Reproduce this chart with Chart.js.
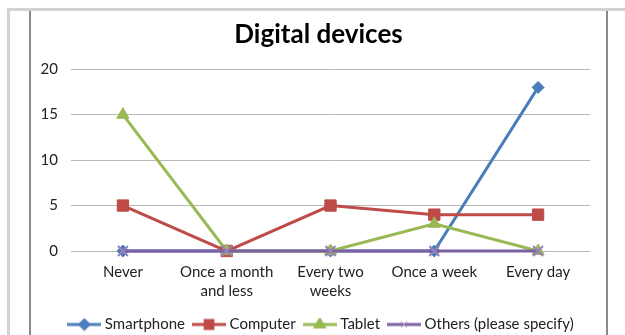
<!DOCTYPE html>
<html>
<head>
<meta charset="utf-8">
<script src="https://cdn.jsdelivr.net/npm/chart.js"></script>
<style>
  html, body { margin: 0; padding: 0; background: #fff; }
  body { width: 625px; height: 335px; position: relative; overflow: hidden; }
  #frameTop { position: absolute; left: 7px; top: 8px; right: 0; height: 3px; background: #d2d2d2; }
  #frameLeft { position: absolute; left: 7px; top: 8px; width: 3px; bottom: 0; background: #d2d2d2; }
  #lineLeft { position: absolute; left: 29px; top: 11px; width: 2px; bottom: 0; background: #8a8a8a; }
  #lineRight { position: absolute; left: 606px; top: 11px; width: 2px; bottom: 0; background: #8a8a8a; }
  #wrap { position: absolute; left: 31px; top: 11px; width: 575px; height: 331px; }
</style>
</head>
<body>
<div id="frameTop"></div>
<div id="frameLeft"></div>
<div id="lineLeft"></div>
<div id="lineRight"></div>
<div id="wrap"><canvas id="chart"></canvas></div>
<script>
// categories and series
const categories = ["Never", ["Once a month", "and less"], ["Every two", "weeks"], "Once a week", "Every day"];
const smartphone = [0, 0, 0, 0, 18];
const computer = [5, 0, 5, 4, 4];
const tablet = [15, 0, 0, 3, 0];
const others = [0, 0, 0, 0, 0];
const yTicks = [0, 5, 10, 15, 20];

const seriesNames = ["Smartphone", "Computer", "Tablet", "Others (please specify)"];
const colors = ["#4a7ebb", "#be4b48", "#98b954", "#7d60a0"];
const styles = ["rectRot", "rect", "triangle", "crossRot"];
const radii = [6, 8, 7, 7];
const legendRadii = [4.5, 5.5, 5, 4.5];

// small icon for the legend: line with its marker
function legendIcon(i) {
  const c = document.createElement("canvas");
  c.width = 34; c.height = 14;
  const ctx = c.getContext("2d");
  ctx.strokeStyle = colors[i];
  ctx.fillStyle = colors[i];
  ctx.lineWidth = 3;
  ctx.beginPath();
  ctx.moveTo(0, 7); ctx.lineTo(34, 7);
  ctx.stroke();
  if (styles[i] === "crossRot") {
    ctx.strokeStyle = "#a898c8";
    ctx.lineWidth = 1;
  }
  Chart.helpers.drawPoint(ctx, { pointStyle: styles[i], radius: legendRadii[i], borderWidth: 1 }, 17, 7);
  if (styles[i] !== "crossRot") ctx.fill();
  return c;
}

const font = "Lato, 'Open Sans', sans-serif";
const allSeries = [smartphone, computer, tablet, others];

const datasets = allSeries.map((vals, i) => ({
  label: seriesNames[i],
  data: vals,
  borderColor: colors[i],
  backgroundColor: colors[i],
  borderWidth: 3,
  pointStyle: styles[i],
  pointRadius: radii[i],
  pointBorderColor: styles[i] === "crossRot" ? "#9580bd" : colors[i],
  pointBorderWidth: styles[i] === "crossRot" ? 2 : 1,
  pointHoverRadius: radii[i],
  tension: 0,
  clip: false,
  order: 4 - i
}));

// nudge title and legend to where they sit in the picture
const boxShift = {
  id: "boxShift",
  afterLayout(chart) {
    chart.legend.left += 12;
    chart.legend.right += 12;
    chart.titleBlock.left += 8;
    chart.titleBlock.right += 8;
  }
};

new Chart(document.getElementById("chart"), {
  type: "line",
  data: { labels: categories, datasets: datasets },
  plugins: [boxShift],
  options: {
    responsive: true,
    maintainAspectRatio: false,
    animation: false,
    layout: { padding: { left: 0, right: 16, top: 0, bottom: 0 } },
    scales: {
      x: {
        offset: true,
        grid: { display: false, drawTicks: false },
        border: { display: false },
        ticks: { color: "#222", font: { family: font, size: 15, lineHeight: 1.3 }, padding: 11, maxRotation: 0, autoSkip: false },
        afterFit: s => { s.height = 55; }
      },
      y: {
        min: 0,
        max: 20,
        afterBuildTicks: s => { s.ticks = yTicks.map(v => ({ value: v })); },
        grid: { color: "#b8b8b8", lineWidth: 1, drawTicks: false },
        border: { display: false },
        ticks: { color: "#222", font: { family: font, size: 15 }, padding: 13 },
        afterFit: s => { s.width = 40; }
      }
    },
    plugins: {
      title: {
        display: true,
        text: "Digital devices",
        color: "#000",
        font: { family: font, size: 26, weight: "bold" },
        padding: { top: 8, bottom: 19 }
      },
      legend: {
        position: "bottom",
        labels: {
          usePointStyle: true,
          pointStyleWidth: 26,
          padding: 11,
          color: "#222",
          font: { family: font, size: 15 },
          generateLabels: chart => seriesNames.map((name, i) => ({
            text: name,
            datasetIndex: i,
            pointStyle: legendIcon(i),
            fillStyle: colors[i],
            strokeStyle: colors[i],
            lineWidth: 0,
            fontColor: "#222"
          }))
        }
      },
      tooltip: { enabled: false }
    }
  }
});
</script>
</body>
</html>
